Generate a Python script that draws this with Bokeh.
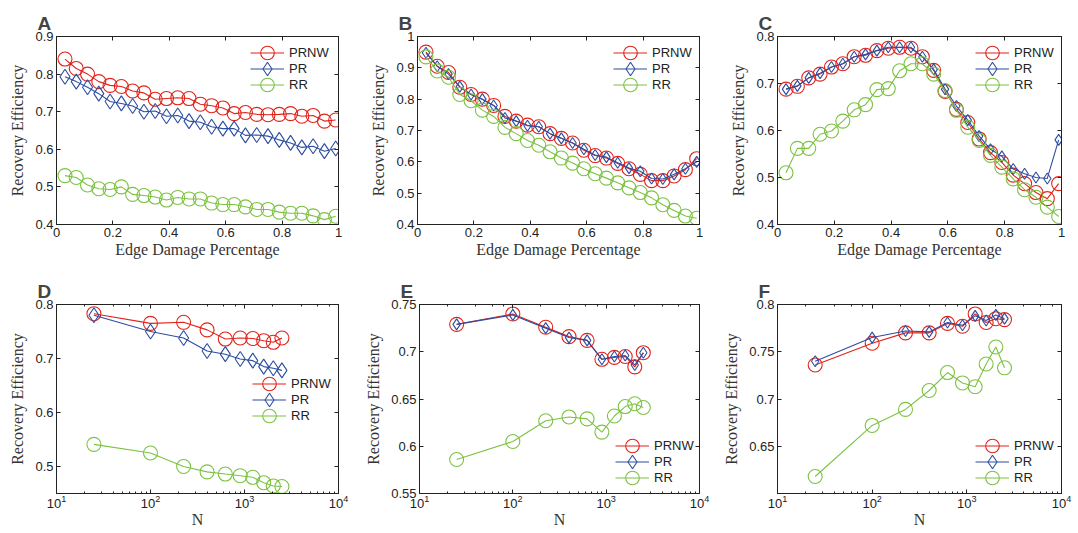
from bokeh.plotting import figure
from bokeh.models import (Range1d, LinearAxis, LogAxis, FixedTicker, LogTicker,
                          CustomJSTickFormatter, Legend, LegendItem)
from bokeh.layouts import row, column
from bokeh.embed import file_html
from bokeh.resources import INLINE

# ---------------- data ----------------
damage = [0.03, 0.07, 0.11, 0.15, 0.19, 0.23, 0.27, 0.31, 0.35, 0.39, 0.43, 0.47, 0.51,
          0.55, 0.59, 0.63, 0.67, 0.71, 0.75, 0.79, 0.83, 0.87, 0.91, 0.95, 0.99]
net_size = [25, 100, 225, 400, 625, 900, 1225, 1600, 2025, 2500]

a_prnw = [0.840, 0.815, 0.800, 0.780, 0.770, 0.767, 0.755, 0.750, 0.733, 0.735, 0.737, 0.735, 0.720,
          0.716, 0.710, 0.695, 0.698, 0.693, 0.692, 0.693, 0.695, 0.688, 0.690, 0.675, 0.678]
a_pr = [0.793, 0.780, 0.765, 0.748, 0.727, 0.722, 0.715, 0.700, 0.702, 0.688, 0.690, 0.675, 0.672,
        0.660, 0.655, 0.655, 0.637, 0.638, 0.635, 0.625, 0.617, 0.605, 0.608, 0.595, 0.602]
a_rr = [0.530, 0.525, 0.505, 0.495, 0.493, 0.500, 0.480, 0.477, 0.473, 0.465, 0.472, 0.468, 0.468,
        0.457, 0.453, 0.453, 0.447, 0.440, 0.440, 0.433, 0.430, 0.430, 0.423, 0.413, 0.422]

b_prnw = [0.950, 0.905, 0.885, 0.838, 0.815, 0.800, 0.780, 0.745, 0.730, 0.717, 0.712, 0.690, 0.675,
          0.660, 0.637, 0.620, 0.612, 0.595, 0.578, 0.560, 0.540, 0.540, 0.555, 0.575, 0.610]
b_pr = [0.948, 0.905, 0.880, 0.840, 0.815, 0.800, 0.780, 0.740, 0.730, 0.715, 0.712, 0.690, 0.675,
        0.660, 0.640, 0.622, 0.615, 0.597, 0.580, 0.570, 0.547, 0.545, 0.560, 0.578, 0.600]
b_rr = [0.935, 0.890, 0.870, 0.815, 0.795, 0.765, 0.745, 0.710, 0.690, 0.668, 0.653, 0.632, 0.612,
        0.596, 0.578, 0.562, 0.548, 0.533, 0.517, 0.502, 0.485, 0.463, 0.445, 0.427, 0.420]

c_prnw = [0.688, 0.694, 0.712, 0.720, 0.735, 0.742, 0.757, 0.760, 0.770, 0.775, 0.777, 0.775, 0.757,
          0.728, 0.683, 0.645, 0.617, 0.582, 0.553, 0.532, 0.505, 0.487, 0.468, 0.455, 0.487]
c_pr = [0.688, 0.695, 0.712, 0.722, 0.735, 0.742, 0.757, 0.762, 0.770, 0.777, 0.777, 0.777, 0.757,
        0.730, 0.688, 0.652, 0.622, 0.588, 0.560, 0.545, 0.518, 0.508, 0.500, 0.498, 0.580]
c_rr = [0.510, 0.562, 0.562, 0.592, 0.599, 0.620, 0.644, 0.655, 0.687, 0.689, 0.727, 0.742, 0.742,
        0.720, 0.685, 0.643, 0.607, 0.579, 0.547, 0.522, 0.497, 0.474, 0.458, 0.437, 0.417]

d_prnw = [0.783, 0.765, 0.767, 0.753, 0.736, 0.738, 0.737, 0.733, 0.730, 0.738]
d_pr = [0.780, 0.750, 0.738, 0.714, 0.708, 0.699, 0.696, 0.685, 0.682, 0.678]
d_rr = [0.541, 0.525, 0.500, 0.490, 0.486, 0.483, 0.480, 0.470, 0.464, 0.463]

e_prnw = [0.729, 0.740, 0.726, 0.716, 0.712, 0.692, 0.694, 0.695, 0.684, 0.699]
e_pr = [0.729, 0.739, 0.725, 0.715, 0.712, 0.692, 0.695, 0.696, 0.686, 0.699]
e_rr = [0.586, 0.605, 0.627, 0.631, 0.629, 0.615, 0.632, 0.642, 0.645, 0.641]

f_prnw = [0.736, 0.759, 0.770, 0.770, 0.780, 0.777, 0.790, 0.781, 0.785, 0.784]
f_pr = [0.740, 0.765, 0.772, 0.771, 0.781, 0.778, 0.788, 0.783, 0.789, 0.785]
f_rr = [0.618, 0.672, 0.689, 0.709, 0.728, 0.717, 0.713, 0.737, 0.755, 0.733]

series_names = ["PRNW", "PR", "RR"]
series_colors = ["#e2231a", "#2c4da0", "#7cc242"]
series_markers = ["circle", "diamond", "circle"]

x_ticks_lin = [0, 0.2, 0.4, 0.6, 0.8, 1]
x_labels_lin = ["0", "0.2", "0.4", "0.6", "0.8", "1"]

# ---------------- styling ----------------
TICK_FONT = "Liberation Sans"
LABEL_FONT = "Liberation Serif"
LEG_GLYPH_W = 34
LEG_GLYPH_H = 35
LEG_PITCH = 16


def style_axis(ax, show_labels=True):
    ax.major_tick_in = 4
    ax.major_tick_out = 0
    ax.minor_tick_in = 2
    ax.minor_tick_out = 0
    ax.axis_line_color = "#222222"
    ax.major_tick_line_color = "#222222"
    ax.minor_tick_line_color = "#222222"
    ax.major_label_text_font = TICK_FONT
    ax.major_label_text_font_size = "13px"
    ax.major_label_text_color = "#222222"
    ax.major_label_standoff = 3 if show_labels else 0
    if not show_labels:
        ax.formatter = CustomJSTickFormatter(code="return '';")
    ax.axis_label_text_font = LABEL_FONT
    ax.axis_label_text_font_size = "16px"
    ax.axis_label_text_font_style = "normal"
    ax.axis_label_text_color = "#333333"
    ax.axis_label_standoff = 6


def make_panel(letter, xs, ys_list, xlog, yrange, yticks, ylabels, w, h, borders,
               leg_x, leg_top, diamond_size, xlabel):
    left, right, top, bottom = borders
    frame_h = h - top - bottom
    if xlog:
        xr = Range1d(10, 10000)
    else:
        xr = Range1d(0, 1)
    p = figure(width=w, height=h, x_range=xr, y_range=Range1d(*yrange),
               x_axis_type="log" if xlog else "linear",
               output_backend="svg", toolbar_location=None,
               min_border_left=left, min_border_right=right,
               min_border_top=top, min_border_bottom=bottom,
               title=letter)
    p.title.text_font = "Liberation Sans"
    p.title.text_font_style = "bold"
    p.title.text_font_size = "19px"
    p.title.offset = -19
    p.title.standoff = 6
    p.xgrid.visible = False
    p.ygrid.visible = False
    p.outline_line_color = "#222222"
    p.background_fill_color = "white"
    p.border_fill_color = "white"

    for i, (ys, name, col, mk) in enumerate(zip(ys_list, series_names, series_colors, series_markers)):
        lr = p.line(xs, ys, line_color=col, line_width=1.1)
        size = diamond_size if mk == "diamond" else 14
        sr = p.scatter(xs, ys, marker=mk, size=size, line_color=col, line_width=1.1,
                       fill_alpha=0)
        center_from_top = leg_top + i * LEG_PITCH
        loc_y = frame_h - center_from_top - LEG_GLYPH_H / 2
        lg = Legend(items=[LegendItem(label=name, renderers=[lr, sr])],
                    location=(leg_x, loc_y))
        lg.label_text_font = TICK_FONT
        lg.label_text_font_size = "13px"
        lg.label_text_color = "#222222"
        lg.glyph_width = LEG_GLYPH_W
        lg.glyph_height = LEG_GLYPH_H
        lg.label_height = 15
        lg.label_standoff = 5
        lg.spacing = 0
        lg.padding = 0
        lg.margin = 0
        lg.border_line_color = None
        lg.background_fill_alpha = 0
        p.add_layout(lg, "center")

    # bottom / left axes
    xa = p.xaxis[0]
    ya = p.yaxis[0]
    style_axis(xa)
    style_axis(ya)
    xa.axis_label = xlabel
    ya.axis_label = "Recovery Efficiency"
    ya.ticker = FixedTicker(ticks=yticks)
    ya.major_label_overrides = {t: l for t, l in zip(yticks, ylabels)}
    ya.minor_tick_line_color = None
    if xlog:
        xa.major_label_standoff = 1
        xa.axis_label_standoff = 0
    else:
        xa.axis_label_standoff = 1
        xa.ticker = FixedTicker(ticks=x_ticks_lin)
        xa.major_label_overrides = {t: l for t, l in zip(x_ticks_lin, x_labels_lin)}
        xa.minor_tick_line_color = None

    # top / right axes (ticks only)
    if xlog:
        top_ax = LogAxis(ticker=LogTicker())
    else:
        top_ax = LinearAxis(ticker=FixedTicker(ticks=x_ticks_lin))
    style_axis(top_ax, show_labels=False)
    if not xlog:
        top_ax.minor_tick_line_color = None
    p.add_layout(top_ax, "above")
    right_ax = LinearAxis(ticker=FixedTicker(ticks=yticks))
    style_axis(right_ax, show_labels=False)
    right_ax.minor_tick_line_color = None
    p.add_layout(right_ax, "right")
    return p


H1 = 260
H2 = 272

pa = make_panel("A", damage, [a_prnw, a_pr, a_rr], False, (0.4, 0.9),
                [0.4, 0.5, 0.6, 0.7, 0.8, 0.9], ["0.4", "0.5", "0.6", "0.7", "0.8", "0.9"],
                362, H1, (56, 24, 36, 36), 194, 16, 15, "Edge Damage Percentage")
pb = make_panel("B", damage, [b_prnw, b_pr, b_rr], False, (0.4, 1.0),
                [0.4, 0.5, 0.6, 0.7, 0.8, 0.9, 1.0], ["0.4", "0.5", "0.6", "0.7", "0.8", "0.9", "1"],
                354, H1, (55, 17, 36, 36), 196, 16, 11, "Edge Damage Percentage")
pc = make_panel("C", damage, [c_prnw, c_pr, c_rr], False, (0.4, 0.8),
                [0.4, 0.5, 0.6, 0.7, 0.8], ["0.4", "0.5", "0.6", "0.7", "0.8"],
                357, H1, (61, 12, 36, 36), 198, 16, 11, "Edge Damage Percentage")
pd = make_panel("D", net_size, [d_prnw, d_pr, d_rr], True, (0.45, 0.8),
                [0.5, 0.6, 0.7, 0.8], ["0.5", "0.6", "0.7", "0.8"],
                362, H2, (56, 24, 44, 39), 196, 79, 15, "N")
pe = make_panel("E", net_size, [e_prnw, e_pr, e_rr], True, (0.55, 0.75),
                [0.55, 0.6, 0.65, 0.7, 0.75], ["0.55", "0.6", "0.65", "0.7", "0.75"],
                354, H2, (55, 17, 44, 39), 196, 141, 11, "N")
pf = make_panel("F", net_size, [f_prnw, f_pr, f_rr], True, (0.6, 0.8),
                [0.65, 0.7, 0.75, 0.8], ["0.65", "0.7", "0.75", "0.8"],
                357, H2, (61, 12, 44, 39), 198, 141, 11, "N")

layout = column(row(pa, pb, pc), row(pd, pe, pf))

with open("out.html", "w") as fh:
    fh.write(file_html(layout, INLINE))
